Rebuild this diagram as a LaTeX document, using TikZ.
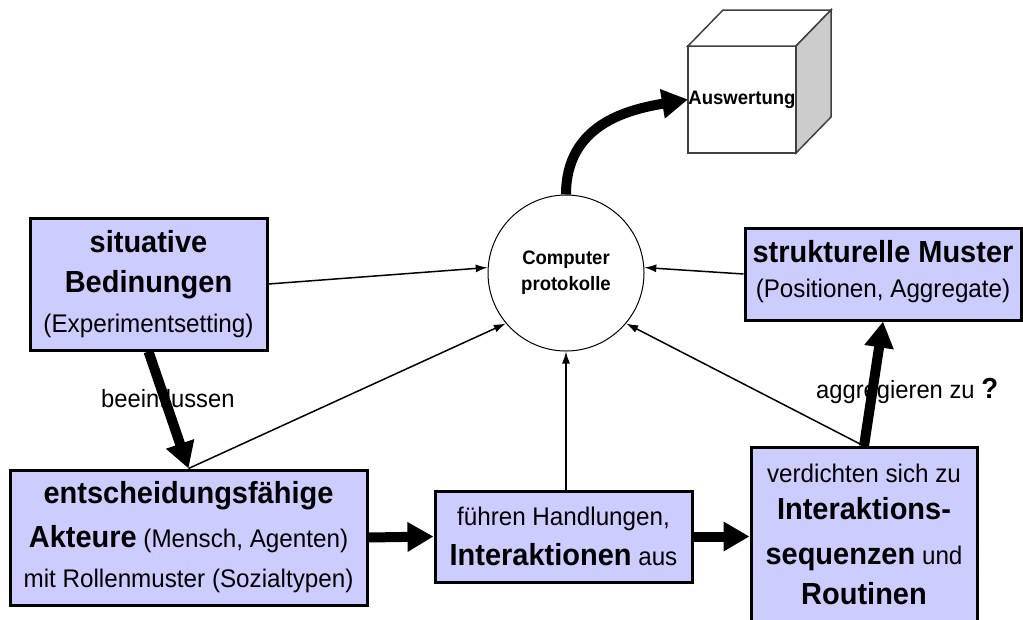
\documentclass[tikz,border=0pt]{standalone}
\usepackage{fontspec}
\setmainfont{Liberation Sans}[FakeStretch=0.95]
\usetikzlibrary{positioning}
\usetikzlibrary{arrows.meta}

\definecolor{boxfill}{RGB}{204,204,255}
\definecolor{cubeside}{RGB}{204,204,204}
\newcommand{\hb}[1]{{\fontsize{30.5}{40}\selectfont\bfseries #1}}

\begin{document}
\begin{tikzpicture}[x=1pt, y=-1pt]

    \tikzset{
        box/.style={
            draw,
            line width=3pt,
            fill=boxfill,
            align=center,
            inner sep=0pt,
            font=\fontsize{25.5}{40}\selectfont
        },
        lbl/.style={
            inner sep=0pt,
            font=\fontsize{25}{30}\selectfont
        },
        thin arrow/.style={
            line width=1.5pt,
            -{Latex[length=12pt,width=8pt]}
        },
        fat arrow/.style={
            line width=10pt,
            -{Triangle[length=26pt,width=28pt]}
        }
    }

    \useasboundingbox (0,0) rectangle (1023,619);
    \clip (0,0) rectangle (1023,619);

    % boxes
    \node[box, minimum width=237pt, minimum height=132pt] (sit) at (148.5,284)
        {\hb{situative}\\\hb{Bedinungen}\\(Experimentsetting)};
    \node[box, minimum width=276pt, minimum height=92pt, text depth=10pt] (mus) at (883,274)
        {\hb{strukturelle Muster}\\[-5pt](Positionen, Aggregate)};
    \node[box, minimum width=357pt, minimum height=135pt] (akt) at (188.5,537.5)
        {\hb{entscheidungsfähige}\\[4pt]\hb{Akteure} (Mensch, Agenten)\\mit Rollenmuster (Sozialtypen)};
    \node[box, minimum width=257pt, minimum height=91pt] (hand) at (563.5,536.5)
        {führen Handlungen,\\\hb{Interaktionen} aus};
    \node[box, minimum width=226pt, anchor=north, inner ysep=17pt, text depth=40pt] (verd) at (864,446)
        {verdichten sich zu\\[-3pt]\hb{Interaktions-}\\[5pt]\hb{sequenzen} und\\\hb{Routinen}};

    % protocol circle
    \node[draw, circle, line width=1pt, fill=white, minimum size=156pt, inner sep=0pt,
          align=center, font=\fontsize{19.5}{26}\selectfont\bfseries] (pc) at (566,273)
        {Computer\\protokolle};

    % evaluation cube
    \node[draw=black!75, line width=1.5pt, fill=white, minimum width=108pt, minimum height=107pt,
          inner sep=0pt, outer sep=0pt, font=\fontsize{19.5}{22}\selectfont\bfseries] (ausw) at (742,99.5)
        {Auswertung};
    \draw[draw=black!75, line width=1.5pt, fill=white]
        (ausw.north west) -- ++(35,-36) -- ++(108,0) -- (ausw.north east) -- cycle;
    \draw[draw=black!75, line width=1.5pt, fill=cubeside]
        (ausw.north east) -- ++(35,-36) -- ++(0,107) -- (ausw.south east) -- cycle;

    % labels
    \node[lbl, anchor=base west] (bee) at (101,407) {beeinflussen};
    \node[lbl, anchor=base west] (agg) at (816,398)
        {aggregieren zu {\fontsize{29}{30}\selectfont\bfseries ?}};

    % thin arrows into the protocols
    \draw[thin arrow] (sit.east) -- (pc.176);
    \draw[thin arrow] (mus.west) -- (pc.4);
    \draw[thin arrow] (akt.north) -- (pc.220);
    \draw[thin arrow] (pc.south |- hand.north) -- (pc.south);
    \draw[thin arrow] (verd.north) -- (pc.320);

    % thick arrows
    \draw[fat arrow] (sit.south) -- (akt.north);
    \draw[fat arrow] (akt.east) -- (hand.west);
    \draw[fat arrow] (hand.east) -- (hand.east -| verd.west);
    \draw[fat arrow] (verd.north) -- (mus.south);
    \draw[fat arrow] (pc.north) .. controls +(0,-70) and +(-60,10) .. (ausw.west);

\end{tikzpicture}
\end{document}
